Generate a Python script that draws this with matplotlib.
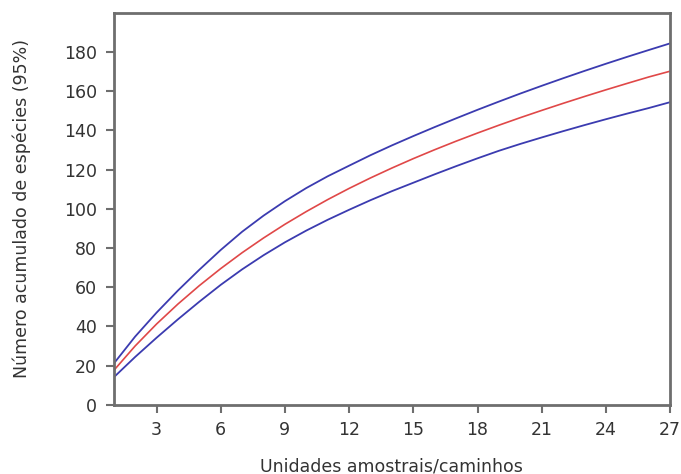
import matplotlib
matplotlib.use('Agg')
import matplotlib.pyplot as plt

# sample units 1..27
units = list(range(1, 28))

# mean accumulated species (red) and 95% bounds (blue)
mean_sp = [17.5, 30, 41.2, 51.4, 60.8, 69.5, 77.6, 85.1, 92.1, 98.6, 104.7, 110.4, 115.75, 120.8,
           125.6, 130.15, 134.5, 138.65, 142.65, 146.5, 150.2, 153.8, 157.3, 160.7, 164, 167.25, 170.2]
upper_sp = [21, 34.8, 47, 58.3, 68.9, 79, 88.3, 96.5, 103.9, 110.6, 116.6, 122, 127.35, 132.35,
            137.1, 141.7, 146.15, 150.5, 154.7, 158.8, 162.75, 166.6, 170.35, 174, 177.55, 181, 184.4]
lower_sp = [14, 24.4, 34.2, 43.6, 52.6, 61.2, 69.1, 76.3, 82.9, 88.9, 94.4, 99.5, 104.4, 109,
            113.3, 117.6, 121.75, 125.75, 129.6, 133.1, 136.4, 139.6, 142.7, 145.7, 148.6, 151.4, 154.4]

xticks = [3, 6, 9, 12, 15, 18, 21, 24, 27]
yticks = [0, 20, 40, 60, 80, 100, 120, 140, 160, 180]

fig = plt.figure(figsize=(6.81, 4.74), dpi=100)
ax = fig.add_axes([0.167, 0.146, 0.817, 0.827])

ax.plot(units, upper_sp, color='#3b3bb0', lw=1.3)
ax.plot(units, mean_sp, color='#e04848', lw=1.2)
ax.plot(units, lower_sp, color='#3b3bb0', lw=1.3)

ax.set_xlim(1, 27)
ax.set_ylim(0, 200)
ax.set_xticks(xticks)
ax.set_yticks(yticks)

for s in ax.spines.values():
    s.set_color('#6e6e6e')
    s.set_linewidth(2)

ax.tick_params(colors='#6e6e6e', width=1.5, length=6, pad=6, labelsize=12.5, labelcolor='#333333')
ax.set_xlabel('Unidades amostrais/caminhos', fontsize=12.5, color='#333333', labelpad=13)
ax.set_ylabel('Número acumulado de espécies (95%)', fontsize=12.5, color='#333333', labelpad=24)

plt.savefig('out.png', dpi=100)
